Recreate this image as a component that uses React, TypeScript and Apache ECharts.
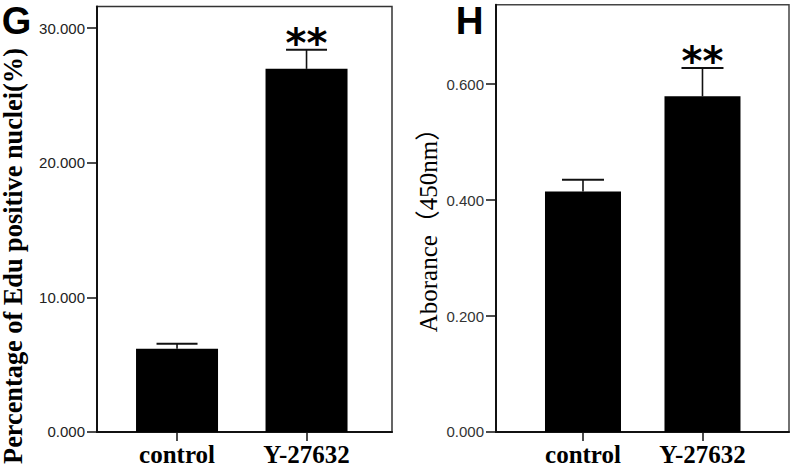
import React, { useEffect, useRef } from "react";
import * as echarts from "echarts";

const categories = ["control", "Y-27632"];
const eduMeans = [6.18, 26.97];
const eduErrors = [0.37, 1.42];
const absMeans = [0.415, 0.579];
const absErrors = [0.02, 0.049];
const significance = ["", "**"];
const eduTicks = [0, 10, 20, 30];
const absTicks = [0, 0.2, 0.4, 0.6];
const eduTitle = "Percentage of Edu positive nuclei(%)";
const absTitle = "Aborance（450nm）";

const SERIF = "'Liberation Serif', 'Noto Sans CJK SC', serif";
const SANS = "'Liberation Sans', Arial, sans-serif";

function makeErrorRender(hw: number) {
  return (params: any, api: any) => {
    const x = api.value(0);
    const mean = api.value(1);
    const err = api.value(2);
    const base = api.coord([x, mean]);
    const top = api.coord([x, mean + err]);
    const children: any[] = [
      {
        type: "line",
        shape: { x1: base[0], y1: base[1], x2: top[0], y2: top[1] },
        style: { stroke: "#111", lineWidth: 1.6 },
      },
      {
        type: "line",
        shape: { x1: top[0] - hw, y1: top[1], x2: top[0] + hw, y2: top[1] },
        style: { stroke: "#111", lineWidth: 2 },
      },
    ];
    const s = significance[params.dataIndex];
    if (s) {
      children.push({
        type: "text",
        style: {
          text: s,
          x: top[0],
          y: top[1] - 7,
          align: "center",
          verticalAlign: "middle",
          fontFamily: "'DejaVu Sans', sans-serif",
          fontWeight: "bold",
          fontSize: 40,
          fill: "#000",
        },
      });
    }
    return { type: "group", children };
  };
}

function xAxisFor(gridIndex: number, min: number, max: number) {
  return {
    type: "value",
    gridIndex,
    min,
    max,
    axisLine: { show: true, onZero: false, lineStyle: { color: "#111", width: 2 } },
    axisTick: { show: true, customValues: [0, 1], length: 9, lineStyle: { color: "#111", width: 1.5 } },
    axisLabel: {
      customValues: [0, 1],
      formatter: (v: number) => categories[Math.round(v)],
      margin: 10,
      fontFamily: SERIF,
      fontWeight: "bold",
      fontSize: 25,
      color: "#000",
    },
    splitLine: { show: false },
  };
}

function yAxisFor(gridIndex: number, max: number, interval: number, ticks: number[], color: string) {
  return {
    type: "value",
    gridIndex,
    min: 0,
    max,
    interval,
    axisLine: { show: true, onZero: false, lineStyle: { color: "#111", width: 2 } },
    axisTick: { show: true, customValues: ticks, length: 10, lineStyle: { color: "#111", width: 1.5 } },
    axisLabel: {
      customValues: ticks,
      formatter: (v: number) => v.toFixed(3),
      margin: 12,
      fontFamily: SANS,
      fontSize: 15,
      color,
    },
    splitLine: { show: false },
  };
}

export default function App() {
  const ref = useRef<HTMLDivElement>(null);
  useEffect(() => {
    if (!ref.current) return;
    const chart = echarts.init(ref.current, null, { renderer: "svg" });
    chart.setOption({
      animation: false,
      backgroundColor: "#fff",
      grid: [
        { left: 97, top: 6.5, width: 295, height: 428, show: true, borderColor: "#333", borderWidth: 1.5 },
        { left: 496, top: 4.7, width: 293, height: 429.3, show: true, borderColor: "#444", borderWidth: 1.5 },
      ],
      xAxis: [xAxisFor(0, -0.618, 1.66), xAxisFor(1, -0.728, 1.724)],
      yAxis: [
        yAxisFor(0, 31.6, 10, eduTicks, "#222"),
        yAxisFor(1, 0.737, 0.2, absTicks, "#333"),
      ],
      series: [
        {
          type: "bar",
          xAxisIndex: 0,
          yAxisIndex: 0,
          barWidth: 82,
          itemStyle: { color: "#000" },
          data: eduMeans.map((v, i) => [i, v]),
        },
        {
          type: "custom",
          xAxisIndex: 0,
          yAxisIndex: 0,
          encode: { x: 0, y: 1 },
          renderItem: makeErrorRender(20.5),
          data: eduMeans.map((v, i) => [i, v, eduErrors[i]]),
          z: 1,
        },
        {
          type: "bar",
          xAxisIndex: 1,
          yAxisIndex: 1,
          barWidth: 76,
          itemStyle: { color: "#000" },
          data: absMeans.map((v, i) => [i, v]),
        },
        {
          type: "custom",
          xAxisIndex: 1,
          yAxisIndex: 1,
          encode: { x: 0, y: 1 },
          renderItem: makeErrorRender(21),
          data: absMeans.map((v, i) => [i, v, absErrors[i]]),
          z: 1,
        },
      ],
      graphic: [
        {
          type: "text",
          x: 16.5,
          y: 1.5,
          style: { text: "G", align: "center", verticalAlign: "top", fontFamily: SANS, fontWeight: "bold", fontSize: 38, fill: "#000" },
        },
        {
          type: "text",
          x: 469.7,
          y: 1,
          style: { text: "H", align: "center", verticalAlign: "top", fontFamily: SANS, fontWeight: "bold", fontSize: 38.5, fill: "#000" },
        },
        {
          type: "text",
          x: 13.6,
          y: 256,
          rotation: Math.PI / 2,
          style: { text: eduTitle, align: "center", verticalAlign: "middle", fontFamily: SERIF, fontWeight: "bold", fontSize: 26.3, fill: "#000" },
        },
        {
          type: "text",
          x: 428,
          y: 224,
          rotation: Math.PI / 2,
          style: { text: absTitle, align: "center", verticalAlign: "middle", fontFamily: SERIF, fontSize: 25, fill: "#000" },
        },
      ],
    });
    return () => chart.dispose();
  }, []);
  return (
    <div
      ref={ref}
      style={{ position: "absolute", left: 0, top: 0, width: 792, height: 467, background: "#fff" }}
    />
  );
}
